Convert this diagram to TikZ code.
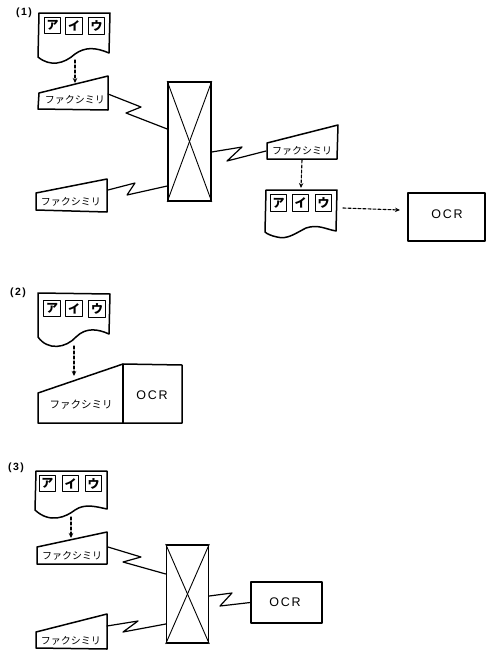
\documentclass[tikz,border=0pt]{standalone}
\usepackage{fontspec}
\usetikzlibrary{arrows.meta}
\newfontfamily\jpfont{Noto Sans CJK JP}
\newfontfamily\ocrfont[LetterSpace=14]{Liberation Sans}
\tikzset{
  every picture/.style={line join=round, line cap=round, >=Stealth},
  outline/.style={line width=1.5pt},
  zigline/.style={line width=1.2pt},
  feed/.style={line width=1.1pt, densely dashed, -{Stealth[length=5pt,width=4.5pt]}},
  kanabox/.style={draw, line width=1.3pt, minimum size=16.5pt, inner sep=0pt, font=\jpfont\bfseries\fontsize{12}{12}\selectfont},
  faxlabel/.style={inner sep=0pt, font=\jpfont\fontsize{10}{10}\selectfont},
  ocrbox/.style={draw, line width=1.3pt, inner sep=0pt},
  ocrlabel/.style={inner sep=0pt, font=\ocrfont\fontsize{12.5}{12.5}\selectfont},
  switchbox/.style={draw, line width=1.5pt, inner sep=0pt},
  partlabel/.style={inner sep=0pt, font=\ocrfont\bfseries\fontsize{10.5}{10.5}\selectfont},
}
\begin{document}
\begin{tikzpicture}[x=1pt,y=-1pt]
\useasboundingbox (0,0) rectangle (487,654);
% part 1
\node[partlabel] (part1) at (24,13) {(1)};
\draw[outline] (39,13)--(110,13)--(109,53) .. controls (95,47) and (85,47) .. (75,54) .. controls (64,64) and (50,67) .. (38,57)--cycle;
\node[kanabox] (kana1a) at (52.5,25.5) {ア};
\node[kanabox] (kana1b) at (74,26) {イ};
\node[kanabox] (kana1c) at (96.5,26) {ウ};
\draw[outline] (39,93)--(108,76)--(108,110)--(38,109)--cycle;
\node[faxlabel] (fax1) at (75,100) {ファクシミリ};
\draw[outline] (36,193)--(107,179)--(107,212)--(36,210)--cycle;
\node[faxlabel] (fax2) at (71,202) {ファクシミリ};
\node[switchbox,minimum width=43pt,minimum height=119pt] (switch1) at (189.5,141.5) {};
\draw[line width=0.9pt] (switch1.north west)--(switch1.south east);
\draw[line width=0.9pt] (switch1.north east)--(switch1.south west);
\draw[outline] (267,143)--(338,125)--(337,159)--(267,159)--cycle;
\node[faxlabel] (fax3) at (302,151) {ファクシミリ};
\draw[outline] (266,190)--(337,190)--(336,231) .. controls (325,229) and (318,224) .. (306,228) .. controls (296,233) and (287,240) .. (277,237) .. controls (272,236) and (267,234) .. (265,232)--cycle;
\node[kanabox] (kana3a) at (278.5,203) {ア};
\node[kanabox] (kana3b) at (300.5,203) {イ};
\node[kanabox] (kana3c) at (323.5,203) {ウ};
\node[ocrbox,minimum width=77pt,minimum height=48pt] (ocr1) at (446.5,217) {};
\node[ocrlabel] (ocr1text) at (447,214) {OCR};
\coordinate (doc1out) at (75,60);
\coordinate (fax1in) at (75,83);
\coordinate (fax3out) at (302,160);
\coordinate (doc3in) at (301,188);
\coordinate (doc3out) at (343,208);
\coordinate (ocr1in) at (400,210);
\coordinate (fax1port) at (108,94);
\coordinate (fax2port) at (108,190);
\coordinate (fax3port) at (266,151);
\draw[feed] (doc1out)--(fax1in);
\draw[feed] (fax3out)--(doc3in);
\draw[feed] (doc3out)--(ocr1in);
\draw[zigline] (fax1port)--(141,107)--(126,113)--(switch1.west|-0,129);
\draw[zigline] (fax2port)--(135,183)--(127,195)--(switch1.west|-0,186);
\draw[zigline] (switch1.east|-0,152)--(242,147)--(227,161)--(fax3port);
% part 2
\node[partlabel] (part2) at (18,293) {(2)};
\draw[outline] (38,293)--(110,294)--(109,334) .. controls (98,329) and (86,327) .. (76,337) .. controls (66,348) and (48,351) .. (38,337)--cycle;
\node[kanabox] (kana2a) at (52,308.5) {ア};
\node[kanabox] (kana2b) at (74,308.5) {イ};
\node[kanabox] (kana2c) at (97,309) {ウ};
\draw[outline] (38,393)--(123,364)--(182,365)--(182,423)--(38,423)--cycle;
\draw[line width=1.1pt] (123,364)--(123,423);
\node[faxlabel,font=\jpfont\fontsize{10.5}{10.5}\selectfont] (fax5) at (81,405) {ファクシミリ};
\node[ocrlabel] (ocr2text) at (152,395) {OCR};
\coordinate (doc2out) at (74,346);
\coordinate (fax5in) at (74,376);
\draw[feed] (doc2out)--(fax5in);
% part 3
\node[partlabel] (part3) at (16,468) {(3)};
\draw[outline] (36,471)--(107,471)--(107,509) .. controls (97,507) and (85,503) .. (75,510) .. controls (66,517) and (50,524) .. (35,510)--cycle;
\node[kanabox] (kana4a) at (47.5,483.5) {ア};
\node[kanabox] (kana4b) at (70.5,483.5) {イ};
\node[kanabox] (kana4c) at (93.5,483.5) {ウ};
\draw[outline] (37,547)--(107,532)--(107,564)--(37,564)--cycle;
\node[faxlabel] (fax6) at (72,556) {ファクシミリ};
\draw[outline] (36,632)--(107,614)--(107,649)--(36,648)--cycle;
\node[faxlabel] (fax7) at (71,641) {ファクシミリ};
\node[switchbox,minimum width=42pt,minimum height=98pt] (switch2) at (187.5,594) {};
\draw[line width=0.9pt] (switch2.north west)--(switch2.south east);
\draw[line width=0.9pt] (switch2.north east)--(switch2.south west);
\node[ocrbox,minimum width=71pt,minimum height=41pt] (ocr3) at (286.5,602.5) {};
\node[ocrlabel] (ocr3text) at (285,602) {OCR};
\coordinate (doc4out) at (71,517);
\coordinate (fax6in) at (71,538);
\coordinate (fax6port) at (108,547);
\coordinate (fax7port) at (107,626);
\draw[feed] (doc4out)--(fax6in);
\draw[zigline] (fax6port)--(141,557)--(123,562)--(switch2.west|-0,574);
\draw[zigline] (fax7port)--(138,621)--(123,632)--(switch2.west|-0,624);
\draw[zigline] (switch2.east|-0,596)--(232,593)--(220,606)--(ocr3.west);
\end{tikzpicture}
\end{document}
